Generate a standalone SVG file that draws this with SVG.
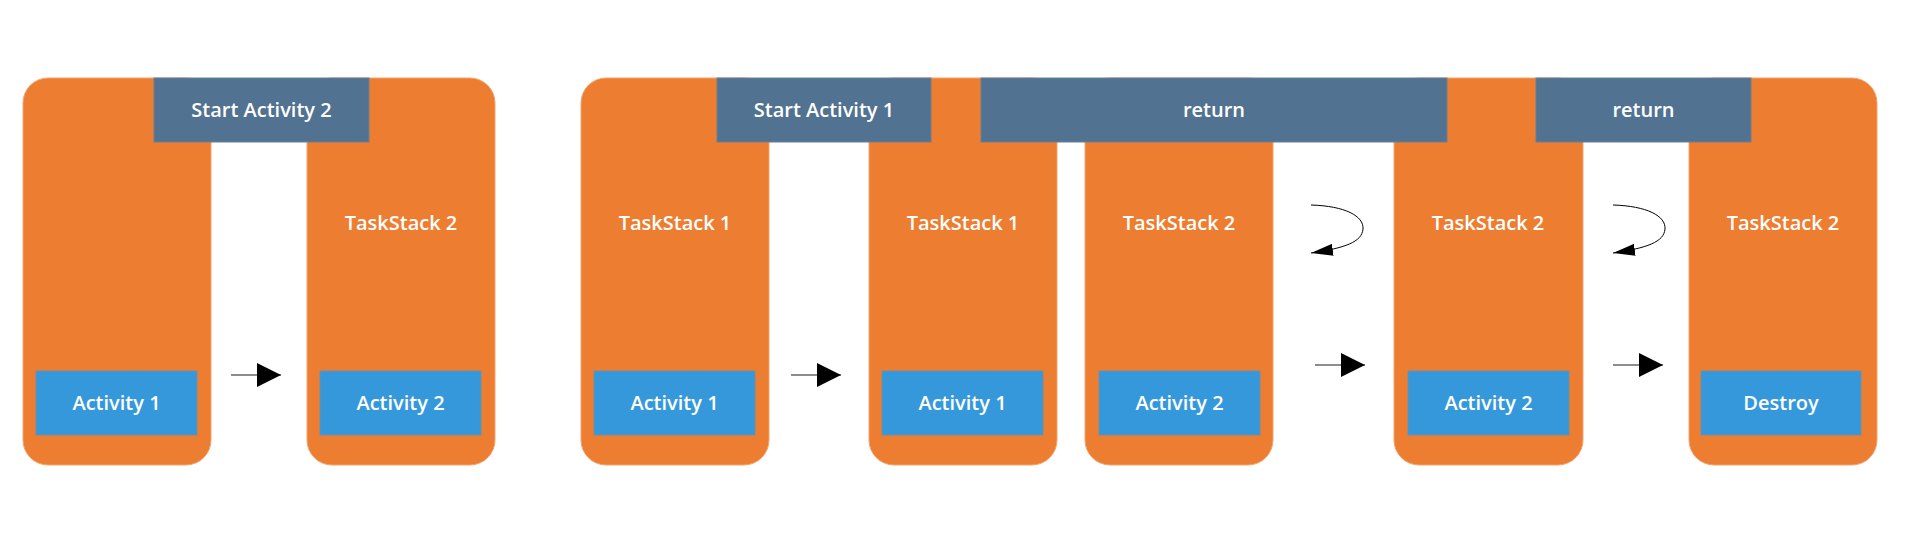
<svg xmlns="http://www.w3.org/2000/svg" width="1908" height="550" viewBox="0 0 1908 550">
<style>
.stack{fill:#ED7D31;stroke:#F3A46F;stroke-width:1}
.act{fill:#3598DB;stroke:#6E8FA8;stroke-width:1}
.ban{fill:#517291;stroke:#6A8094;stroke-width:1}
text{font-family:"Open Sans","Liberation Sans",sans-serif;font-size:20px;font-weight:600;fill:#FFFFFF;text-anchor:middle}
.conn{fill:none;stroke:#666666;stroke-width:1.5}
.curve{fill:none;stroke:#000000;stroke-width:1}
</style>
<defs>
<marker id="tri" markerUnits="userSpaceOnUse" markerWidth="24" markerHeight="24" viewBox="0 0 24 24" refX="24" refY="12" orient="auto">
<path d="M0,0 L24,12 L0,24 z" fill="#000"/>
</marker>
<marker id="tri2" markerUnits="userSpaceOnUse" markerWidth="22" markerHeight="12" viewBox="0 0 22 12" refX="22" refY="6" orient="auto">
<path d="M0,0 L22,6 L0,12 z" fill="#000"/>
</marker>
</defs>
<rect width="1908" height="550" fill="#FFFFFF"/>

<g id="stack1"><rect class="stack" x="23" y="78" width="188" height="387" rx="25"/>
<g id="act1"><rect class="act" x="36" y="371" width="161" height="64"/><text x="116.5" y="410">Activity 1</text></g></g>

<g id="stack2"><rect class="stack" x="307" y="78" width="188" height="387" rx="25"/><text x="401" y="230">TaskStack 2</text>
<g id="act2"><rect class="act" x="320" y="371" width="161" height="64"/><text x="400.5" y="410">Activity 2</text></g></g>

<g id="stack3"><rect class="stack" x="581" y="78" width="188" height="387" rx="25"/><text x="675" y="230">TaskStack 1</text>
<g id="act3"><rect class="act" x="594" y="371" width="161" height="64"/><text x="674.5" y="410">Activity 1</text></g></g>

<g id="stack4"><rect class="stack" x="869" y="78" width="188" height="387" rx="25"/><text x="963" y="230">TaskStack 1</text>
<g id="act4"><rect class="act" x="882" y="371" width="161" height="64"/><text x="962.5" y="410">Activity 1</text></g></g>

<g id="stack5"><rect class="stack" x="1085" y="78" width="188" height="387" rx="25"/><text x="1179" y="230">TaskStack 2</text>
<g id="act5"><rect class="act" x="1099" y="371" width="161" height="64"/><text x="1179.5" y="410">Activity 2</text></g></g>

<g id="stack6"><rect class="stack" x="1394" y="78" width="189" height="387" rx="25"/><text x="1488" y="230">TaskStack 2</text>
<g id="act6"><rect class="act" x="1408" y="371" width="161" height="64"/><text x="1488.5" y="410">Activity 2</text></g></g>

<g id="stack7"><rect class="stack" x="1689" y="78" width="188" height="387" rx="25"/><text x="1783" y="230">TaskStack 2</text>
<g id="act7"><rect class="act" x="1701" y="371" width="160" height="64"/><text x="1781" y="410">Destroy</text></g></g>

<g id="banner1"><rect class="ban" x="154" y="78" width="215" height="64"/><text x="261.5" y="117">Start Activity 2</text></g>
<g id="banner2"><rect class="ban" x="717" y="78" width="214" height="64"/><text x="824" y="117">Start Activity 1</text></g>
<g id="banner3"><rect class="ban" x="981" y="78" width="466" height="64"/><text x="1214" y="117">return</text></g>
<g id="banner4"><rect class="ban" x="1536" y="78" width="215" height="64"/><text x="1643.5" y="117">return</text></g>

<g id="connectors">
<line class="conn" x1="231" y1="375" x2="281" y2="375" marker-end="url(#tri)"/>
<line class="conn" x1="791" y1="375" x2="841" y2="375" marker-end="url(#tri)"/>
<line class="conn" x1="1315" y1="365" x2="1365" y2="365" marker-end="url(#tri)"/>
<line class="conn" x1="1613" y1="365" x2="1663" y2="365" marker-end="url(#tri)"/>
<path class="curve" d="M1311,205 C1345,206 1364,216 1363,229 C1362,242 1345,248 1311,253" marker-end="url(#tri2)"/>
<path class="curve" d="M1613,205 C1647,206 1666,216 1665,229 C1664,242 1647,248 1613,253" marker-end="url(#tri2)"/>
</g>
</svg>
